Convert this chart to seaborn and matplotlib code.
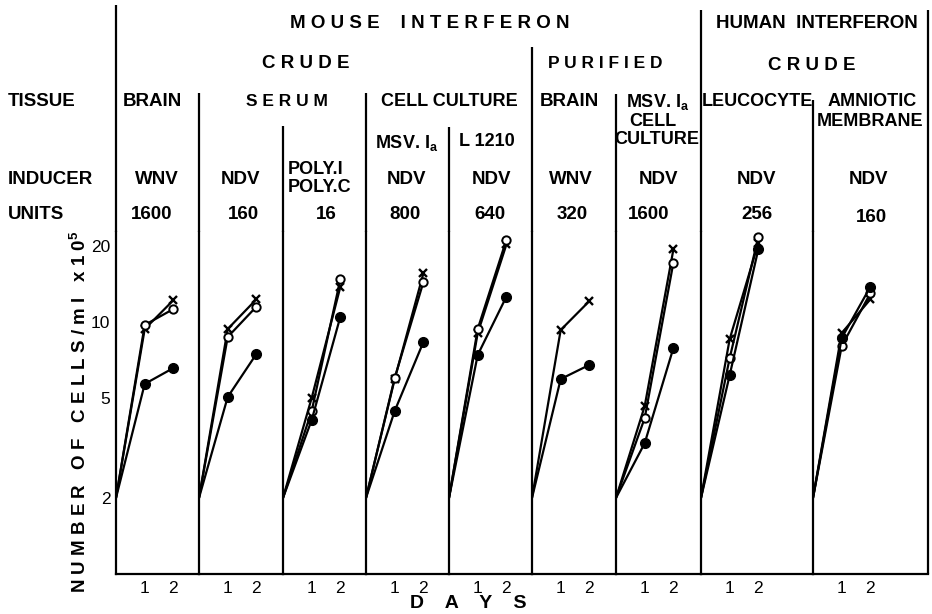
import numpy as np
import pandas as pd
import matplotlib
matplotlib.use("Agg")
import matplotlib.pyplot as plt
from matplotlib.lines import Line2D
from matplotlib.ticker import NullLocator, FixedLocator, FixedFormatter
import seaborn as sns

sns.set_style("white")
plt.rcParams["font.family"] = ["Liberation Sans", "DejaVu Sans"]
plt.rcParams["mathtext.fontset"] = "custom"
plt.rcParams["mathtext.rm"] = "Liberation Sans"
plt.rcParams["mathtext.bf"] = "Liberation Sans:bold"
plt.rcParams["mathtext.it"] = "Liberation Sans:italic"

# ---------------- data ----------------
days = [0, 1, 2]
start_count = 2.0
cross_day1 = [9.37, 9.37, 4.99, 5.93, 9.03, 9.29, 4.63, 8.55, 9.03]
cross_day2 = [12.2, 12.3, 13.8, 15.6, 20.3, 12.1, 19.4, 20.6, 12.3]
open_day1 = [9.72, 8.71, 4.43, 5.99, 9.37, np.nan, 4.15, 7.19, 8.02]
open_day2 = [11.25, 11.5, 14.8, 14.4, 21.2, np.nan, 17.2, 21.8, 13.0]
filled_day1 = [5.67, 5.03, 4.08, 4.43, 7.39, 5.93, 3.30, 6.15, 8.63]
filled_day2 = [6.56, 7.46, 10.5, 8.32, 12.6, 6.75, 7.88, 19.5, 13.8]

y_ticks = [2, 5, 10, 20]
y_tick_labels = ["2", "5", "10", "20"]
x_ticks = [1, 2]
x_tick_labels = ["1", "2"]

inducers = ["WNV", "NDV", "POLY.I\nPOLY.C", "NDV", "NDV", "WNV", "NDV", "NDV", "NDV"]
units = ["1600", "160", "16", "800", "640", "320", "1600", "256", "160"]

# ---------------- layout (pixels) ----------------
W, H = 932, 614
fig = plt.figure(figsize=(W / 100, H / 100), dpi=100)


def fx(px):
    return px / W


def fy(py):
    return 1 - py / H


panel_left = [116, 199, 283, 366, 449, 532, 616, 701, 813]
right_edge = 928
line_top = [5, 93, 126, 93, 127, 47, 94, 10, 100]
right_top = 10
ax_bottom_px, ax_top_px = 574, 232
px_per_day = 28.7
zero_px = 573.7
px_per_decade = 251.8
ymin = 10 ** ((zero_px - ax_bottom_px) / px_per_decade)
ymax = 10 ** ((zero_px - ax_top_px) / px_per_decade)

LW = 1.6

series_specs = [
    ("cross", cross_day1, cross_day2, dict(marker="x", markersize=6, mew=1.7, mfc="k", mec="k")),
    ("open", open_day1, open_day2, dict(marker="o", markersize=6, mew=1.4, mfc="white", mec="k")),
    ("filled", filled_day1, filled_day2, dict(marker="o", markersize=7, mew=1.0, mfc="k", mec="k")),
]

for i, left in enumerate(panel_left):
    right = panel_left[i + 1] if i + 1 < len(panel_left) else right_edge
    ax = fig.add_axes([fx(left), fy(ax_bottom_px), fx(right - left),
                       (ax_bottom_px - ax_top_px) / H])
    ax.set_yscale("log")
    for name, d1, d2, style in series_specs:
        if np.isnan(d1[i]):
            continue
        df = pd.DataFrame({"day": days, "count": [start_count, d1[i], d2[i]]})
        sns.lineplot(data=df, x="day", y="count", ax=ax, color="k", lw=1.6,
                     sort=False, estimator=None, markevery=[1, 2], **style)
    ax.set_xlim(0, (right - left) / px_per_day)
    ax.set_ylim(ymin, ymax)
    ax.set_xlabel("")
    ax.set_ylabel("")
    for s in ["top", "right"]:
        ax.spines[s].set_visible(False)
    for s in ["left", "bottom"]:
        ax.spines[s].set_linewidth(LW)
        ax.spines[s].set_color("k")
    ax.xaxis.set_major_locator(FixedLocator(x_ticks))
    ax.xaxis.set_major_formatter(FixedFormatter(x_tick_labels))
    ax.xaxis.set_minor_locator(NullLocator())
    ax.yaxis.set_major_locator(FixedLocator(y_ticks))
    ax.yaxis.set_minor_locator(NullLocator())
    if i == 0:
        ax.yaxis.set_major_formatter(FixedFormatter(y_tick_labels))
    else:
        ax.yaxis.set_major_formatter(FixedFormatter([""] * len(y_ticks)))
    ax.tick_params(axis="both", which="major", direction="in", length=4,
                   width=1.2, color="k", labelsize=12.5, labelcolor="k")
    ax.tick_params(axis="x", pad=5)
    ax.tick_params(axis="y", pad=4)
    ax.patch.set_alpha(0)

# vertical divider lines in the header area
for left, top in zip(panel_left, line_top):
    fig.add_artist(Line2D([fx(left), fx(left)], [fy(top), fy(ax_top_px)],
                          color="k", lw=LW, solid_capstyle="butt"))
fig.add_artist(Line2D([fx(right_edge), fx(right_edge)], [fy(right_top), fy(ax_bottom_px)],
                      color="k", lw=LW, solid_capstyle="butt"))

TS = 13.5


def T(x, y, s, ha="center", size=TS, **kw):
    fig.text(fx(x), fy(y), s, ha=ha, va="center", weight="bold", size=size,
             color="k", **kw)


# top headers
T(430, 23, "M O U S E    I N T E R F E R O N")
T(817, 24, "HUMAN  INTERFERON", size=13.5)
T(306, 64, "C R U D E")
T(605, 64, "P U R I F I E D", size=12.5)
T(812, 65, "C R U D E")

# row titles
T(8, 102, "TISSUE", ha="left")
T(8, 179, "INDUCER", ha="left")
T(8, 215, "UNITS", ha="left")

# tissue row
T(152, 102, "BRAIN")
T(287, 102, "S E R U M", size=12.5)
T(449, 102, "CELL CULTURE", size=13)
T(569, 102, "BRAIN")
T(658, 102, r"MSV. I$_\mathbf{a}$", size=13)
T(653, 121, "CELL", size=13)
T(657, 140, "CULTURE", size=13)
T(757, 102, "LEUCOCYTE", size=13)
T(872, 102, "AMNIOTIC", size=13)
T(870, 122, "MEMBRANE", size=13)
T(407, 143, r"MSV. I$_\mathbf{a}$", size=13)
T(487, 141, "L 1210", size=13)

# inducer row
inducer_x = [157, 241, 288, 407, 491, 571, 658, 757, 869]
for x, s in zip(inducer_x, inducers):
    if "\n" in s:
        a, b = s.split("\n")
        T(x, 170, a, ha="left", size=13)
        T(x, 188, b, ha="left", size=13)
    else:
        T(x, 179, s)

# units row
unit_x = [152, 243, 326, 405, 490, 572, 649, 757, 871]
unit_y = [215, 215, 215, 215, 215, 215, 215, 215, 218]
for x, y, s in zip(unit_x, unit_y, units):
    T(x, y, s)

# axis titles
T(80, 412, r"N U M B E R   O F   C E L L S / m l   x 1 0$^{\mathbf{5}}$", rotation=90)
T(468, 603, "D    A    Y    S", size=14)

fig.savefig("out.png", dpi=100)
